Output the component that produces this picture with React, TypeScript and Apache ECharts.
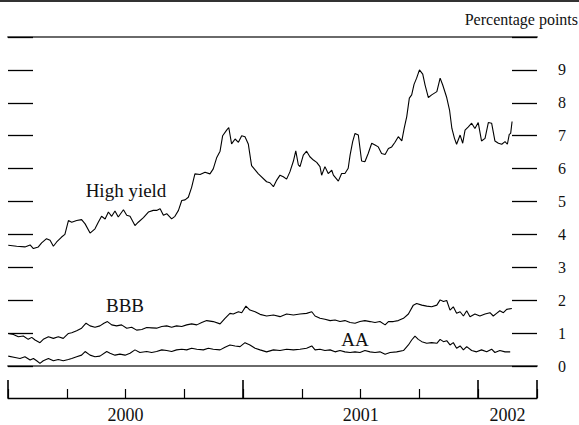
import React, { useEffect, useRef } from "react";
import * as echarts from "echarts";

const FONT = "'Liberation Serif', 'Times New Roman', serif";

const yTicks = [0, 1, 2, 3, 4, 5, 6, 7, 8, 9];
const yearLabels = [
  { at: 2000.5, text: "2000" },
  { at: 2001.5, text: "2001" },
  { at: 2002.125, text: "2002" },
];

const hyDates = [
  2000.001, 2000.037, 2000.072, 2000.094, 2000.108, 2000.129, 2000.143, 2000.164, 2000.179, 2000.193,
  2000.207, 2000.228, 2000.242, 2000.257, 2000.271, 2000.292, 2000.313, 2000.328, 2000.349, 2000.37,
  2000.384, 2000.398, 2000.413, 2000.427, 2000.441, 2000.455, 2000.469, 2000.491, 2000.505, 2000.519,
  2000.54, 2000.554, 2000.576, 2000.597, 2000.618, 2000.632, 2000.647, 2000.661, 2000.675, 2000.696,
  2000.71, 2000.725, 2000.739, 2000.753, 2000.767, 2000.781, 2000.795, 2000.817, 2000.838, 2000.859,
  2000.873, 2000.888, 2000.902, 2000.913, 2000.93, 2000.939, 2000.951, 2000.966, 2000.98, 2000.994,
  2001.008, 2001.022, 2001.036, 2001.051, 2001.065, 2001.1, 2001.114, 2001.129, 2001.143, 2001.157,
  2001.171, 2001.185, 2001.199, 2001.214, 2001.224, 2001.235, 2001.242, 2001.256, 2001.27, 2001.284,
  2001.299, 2001.313, 2001.327, 2001.334, 2001.348, 2001.362, 2001.377, 2001.384, 2001.405, 2001.419,
  2001.433, 2001.447, 2001.455, 2001.466, 2001.476, 2001.49, 2001.504, 2001.518, 2001.532, 2001.547,
  2001.561, 2001.575, 2001.589, 2001.604, 2001.618, 2001.632, 2001.646, 2001.66, 2001.675, 2001.685,
  2001.696, 2001.707, 2001.717, 2001.727, 2001.738, 2001.75, 2001.764, 2001.774, 2001.788, 2001.802,
  2001.824, 2001.838, 2001.849, 2001.866, 2001.878, 2001.888, 2001.899, 2001.908, 2001.923, 2001.934,
  2001.944, 2001.958, 2001.972, 2001.986, 2002.0, 2002.014, 2002.029, 2002.043, 2002.057, 2002.071,
  2002.086, 2002.1, 2002.114, 2002.124, 2002.132, 2002.138, 2002.144,
];
const hyValues = [
  3.67, 3.64, 3.62, 3.68, 3.57, 3.62, 3.74, 3.87, 3.82, 3.64,
  3.77, 3.92, 4.0, 4.42, 4.37, 4.42, 4.45, 4.32, 4.04, 4.17,
  4.37, 4.55, 4.47, 4.68, 4.55, 4.71, 4.53, 4.75, 4.58, 4.55,
  4.27, 4.37, 4.51, 4.68, 4.73, 4.73, 4.78, 4.58, 4.63, 4.47,
  4.55, 4.73, 5.03, 5.05, 5.13, 5.43, 5.84, 5.82, 5.89, 5.84,
  5.99, 6.34, 6.53, 7.0, 7.17, 7.25, 6.75, 6.9, 6.8, 7.0,
  6.97, 6.75, 6.09, 5.96, 5.84, 5.6, 5.57, 5.45, 5.65, 5.8,
  5.75, 5.68, 5.9, 6.23, 6.54, 6.11, 6.06, 6.41, 6.53, 6.36,
  6.26, 6.19, 6.06, 5.8, 6.06, 5.85, 5.95, 5.8, 5.62, 5.85,
  5.85, 6.01, 6.41, 6.82, 7.07, 7.02, 6.23, 6.21, 6.46, 6.77,
  6.72, 6.66, 6.46, 6.43, 6.61, 6.66, 6.8, 6.97, 6.84, 7.22,
  7.58, 8.14, 8.24, 8.56, 8.75, 9.0, 8.87, 8.54, 8.16, 8.24,
  8.34, 8.75, 8.54, 8.16, 7.78, 7.22, 6.92, 6.74, 7.02, 6.77,
  7.17, 7.27, 7.38, 7.22, 7.4, 6.84, 6.92, 7.4, 7.38, 6.84,
  6.77, 6.74, 6.82, 6.74, 7.04, 7.07, 7.43,
];

const bbbDates = [
  2000.001, 2000.023, 2000.044, 2000.065, 2000.086, 2000.101, 2000.115, 2000.136, 2000.15, 2000.172,
  2000.193, 2000.214, 2000.235, 2000.257, 2000.271, 2000.292, 2000.313, 2000.332, 2000.349, 2000.37,
  2000.391, 2000.408, 2000.423, 2000.441, 2000.462, 2000.483, 2000.505, 2000.526, 2000.547, 2000.569,
  2000.59, 2000.611, 2000.632, 2000.654, 2000.675, 2000.696, 2000.717, 2000.739, 2000.76, 2000.781,
  2000.803, 2000.824, 2000.845, 2000.873, 2000.902, 2000.923, 2000.944, 2000.958, 2000.98, 2000.994,
  2001.012, 2001.029, 2001.051, 2001.072, 2001.1, 2001.129, 2001.157, 2001.185, 2001.214, 2001.242,
  2001.27, 2001.292, 2001.306, 2001.327, 2001.348, 2001.37, 2001.391, 2001.412, 2001.433, 2001.455,
  2001.476, 2001.497, 2001.518, 2001.54, 2001.561, 2001.582, 2001.604, 2001.618, 2001.639, 2001.66,
  2001.682, 2001.703, 2001.724, 2001.738, 2001.76, 2001.781, 2001.802, 2001.824, 2001.838, 2001.852,
  2001.866, 2001.88, 2001.894, 2001.908, 2001.923, 2001.937, 2001.951, 2001.965, 2001.986, 2002.007,
  2002.029, 2002.05, 2002.064, 2002.078, 2002.092, 2002.107, 2002.121, 2002.143,
];
const bbbValues = [
  0.99, 0.96, 0.89, 0.91, 0.81, 0.87, 0.79, 0.71, 0.81, 0.89,
  0.84, 0.89, 0.84, 0.99, 1.01, 1.07, 1.15, 1.3, 1.22, 1.18,
  1.22, 1.3, 1.35, 1.25, 1.22, 1.25, 1.15, 1.18, 1.09, 1.11,
  1.17, 1.16, 1.15, 1.2, 1.22, 1.18, 1.22, 1.2, 1.25, 1.28,
  1.25, 1.32, 1.38, 1.35, 1.28, 1.45, 1.6, 1.58, 1.65, 1.62,
  1.82, 1.7, 1.65, 1.57, 1.52, 1.55, 1.5, 1.58, 1.55, 1.58,
  1.6, 1.65, 1.52, 1.45, 1.42, 1.38, 1.4, 1.35, 1.38, 1.32,
  1.3, 1.35, 1.38, 1.35, 1.32, 1.35, 1.25, 1.35, 1.35, 1.38,
  1.45, 1.58, 1.85, 1.9, 1.85, 1.82, 1.8, 1.85, 2.01, 1.96,
  1.99, 1.7, 1.8, 1.6, 1.65, 1.52, 1.68, 1.5, 1.58, 1.52,
  1.58, 1.62, 1.52, 1.6, 1.68, 1.62, 1.72, 1.75,
];

const aaDates = [
  2000.001, 2000.03, 2000.051, 2000.072, 2000.094, 2000.108, 2000.122, 2000.136, 2000.15, 2000.172,
  2000.193, 2000.214, 2000.235, 2000.257, 2000.271, 2000.292, 2000.313, 2000.328, 2000.349, 2000.37,
  2000.391, 2000.42, 2000.434, 2000.455, 2000.476, 2000.498, 2000.519, 2000.54, 2000.561, 2000.59,
  2000.611, 2000.632, 2000.654, 2000.675, 2000.696, 2000.717, 2000.739, 2000.76, 2000.781, 2000.803,
  2000.831, 2000.852, 2000.873, 2000.902, 2000.923, 2000.944, 2000.966, 2000.987, 2001.008, 2001.029,
  2001.051, 2001.072, 2001.1, 2001.129, 2001.157, 2001.185, 2001.214, 2001.242, 2001.27, 2001.292,
  2001.306, 2001.327, 2001.348, 2001.37, 2001.391, 2001.412, 2001.433, 2001.455, 2001.476, 2001.497,
  2001.518, 2001.54, 2001.561, 2001.582, 2001.604, 2001.625, 2001.653, 2001.682, 2001.703, 2001.717,
  2001.731, 2001.745, 2001.76, 2001.781, 2001.802, 2001.824, 2001.838, 2001.852, 2001.866, 2001.88,
  2001.894, 2001.908, 2001.923, 2001.937, 2001.951, 2001.972, 2001.993, 2002.014, 2002.036, 2002.057,
  2002.071, 2002.092, 2002.114, 2002.136,
];
const aaValues = [
  0.3, 0.26, 0.23, 0.28, 0.18, 0.23, 0.16, 0.08, 0.16, 0.23,
  0.16, 0.2, 0.16, 0.2, 0.23, 0.28, 0.33, 0.44, 0.33, 0.28,
  0.3, 0.44, 0.39, 0.33, 0.36, 0.33, 0.39, 0.49, 0.41, 0.44,
  0.41, 0.44, 0.49, 0.47, 0.44, 0.49, 0.51, 0.49, 0.54, 0.51,
  0.49, 0.54, 0.51, 0.49, 0.57, 0.64, 0.61, 0.59, 0.71, 0.64,
  0.54, 0.49, 0.43, 0.49, 0.47, 0.51, 0.49, 0.51, 0.54, 0.61,
  0.49, 0.51, 0.47, 0.49, 0.43, 0.47, 0.43, 0.41, 0.43, 0.41,
  0.47, 0.43, 0.41, 0.43, 0.36, 0.41, 0.43, 0.47, 0.64, 0.79,
  0.91, 0.81, 0.74, 0.69, 0.71, 0.69, 0.81, 0.74, 0.77, 0.64,
  0.71, 0.54, 0.61, 0.49, 0.59, 0.47, 0.43, 0.49, 0.43, 0.51,
  0.41, 0.47, 0.43, 0.43,
];

const pairs = (xs: number[], ys: number[]) => xs.map((x, i) => [x, ys[i]]);

const X_MIN = 2000;
const X_MAX = 2002.25;

export default function App() {
  const ref = useRef<HTMLDivElement>(null);
  useEffect(() => {
    if (!ref.current) return;
    const chart = echarts.init(ref.current, undefined, { renderer: "svg" });
    const baseX = { type: "value" as const, min: X_MIN, max: X_MAX, splitLine: { show: false } };
    const lineSeries = (name: string, xs: number[], ys: number[]) => ({
      name,
      type: "line",
      xAxisIndex: 0,
      yAxisIndex: 0,
      data: pairs(xs, ys),
      showSymbol: false,
      symbol: "none",
      lineStyle: { color: "#000", width: 1.1 },
      z: 5,
    });
    chart.setOption({
      animation: false,
      backgroundColor: "#fff",
      grid: { left: 8, right: 42, top: 37, bottom: 59, containLabel: false },
      xAxis: [
        {
          ...baseX,
          position: "bottom",
          axisLine: { show: true, onZero: false, lineStyle: { color: "#6a6a6a", width: 2 } },
          axisTick: { show: false },
          axisLabel: { show: false },
        },
        {
          ...baseX,
          position: "top",
          axisLine: { show: true, onZero: false, lineStyle: { color: "#6a6a6a", width: 2 } },
          axisTick: { show: false },
          axisLabel: { show: false },
        },
        {
          ...baseX,
          position: "bottom",
          offset: 32,
          interval: 0.25,
          axisLine: { show: true, onZero: false, lineStyle: { color: "#000", width: 1.3 } },
          axisTick: { show: true, inside: true, length: 9, lineStyle: { color: "#000", width: 1.2 } },
          axisLabel: { show: false },
        },
        {
          ...baseX,
          position: "bottom",
          offset: 32,
          interval: 1,
          axisLine: { show: false, onZero: false },
          axisTick: { show: true, inside: true, length: 18, lineStyle: { color: "#000", width: 1.6 } },
          axisLabel: { show: false },
        },
        {
          ...baseX,
          position: "bottom",
          offset: 32,
          interval: 0.125,
          axisLine: { show: false, onZero: false },
          axisTick: { show: false },
          axisLabel: {
            show: true,
            margin: 8,
            fontSize: 18,
            fontFamily: FONT,
            color: "#111",
            showMinLabel: true,
            showMaxLabel: true,
            formatter: (v: number) => {
              const hit = yearLabels.find((l) => Math.abs(l.at - v) < 1e-6);
              return hit ? hit.text : "";
            },
          },
        },
      ],
      yAxis: [
        {
          type: "value",
          min: 0,
          max: 10,
          interval: 1,
          position: "left",
          z: 3,
          axisLine: { show: false, onZero: false },
          splitLine: { show: false },
          axisTick: { show: true, inside: true, length: 25, lineStyle: { color: "#000", width: 1.3 } },
          axisLabel: { show: false },
        },
        {
          type: "value",
          min: 0,
          max: 10,
          interval: 1,
          position: "right",
          z: 3,
          axisLine: { show: false, onZero: false },
          splitLine: { show: false },
          axisTick: { show: true, inside: true, length: 25, lineStyle: { color: "#000", width: 1.3 } },
          axisLabel: {
            show: true,
            margin: 21,
            align: "left",
            fontSize: 16,
            fontFamily: FONT,
            color: "#111",
            formatter: (v: number) => (yTicks.includes(v) ? String(v) : ""),
          },
        },
      ],
      series: [
        lineSeries("High yield", hyDates, hyValues),
        lineSeries("BBB", bbbDates, bbbValues),
        lineSeries("AA", aaDates, aaValues),
      ],
      graphic: [
        { type: "rect", left: 0, top: 0, shape: { width: 579, height: 2 }, style: { fill: "#333" } },
        {
          type: "text",
          right: 1,
          top: 11,
          style: { text: "Percentage points", font: `16px ${FONT}`, fill: "#111" },
        },
        {
          type: "text",
          x: 126,
          y: 190,
          style: { text: "High yield", font: `19px ${FONT}`, fill: "#111", align: "center", verticalAlign: "middle" },
        },
        {
          type: "text",
          x: 125,
          y: 305,
          style: { text: "BBB", font: `19px ${FONT}`, fill: "#111", align: "center", verticalAlign: "middle" },
        },
        {
          type: "text",
          x: 355,
          y: 339,
          style: { text: "AA", font: `19px ${FONT}`, fill: "#111", align: "center", verticalAlign: "middle" },
        },
      ],
    });
    return () => chart.dispose();
  }, []);
  return (
    <div
      ref={ref}
      style={{ position: "fixed", left: 0, top: 0, width: 579, height: 425, background: "#fff" }}
    />
  );
}
